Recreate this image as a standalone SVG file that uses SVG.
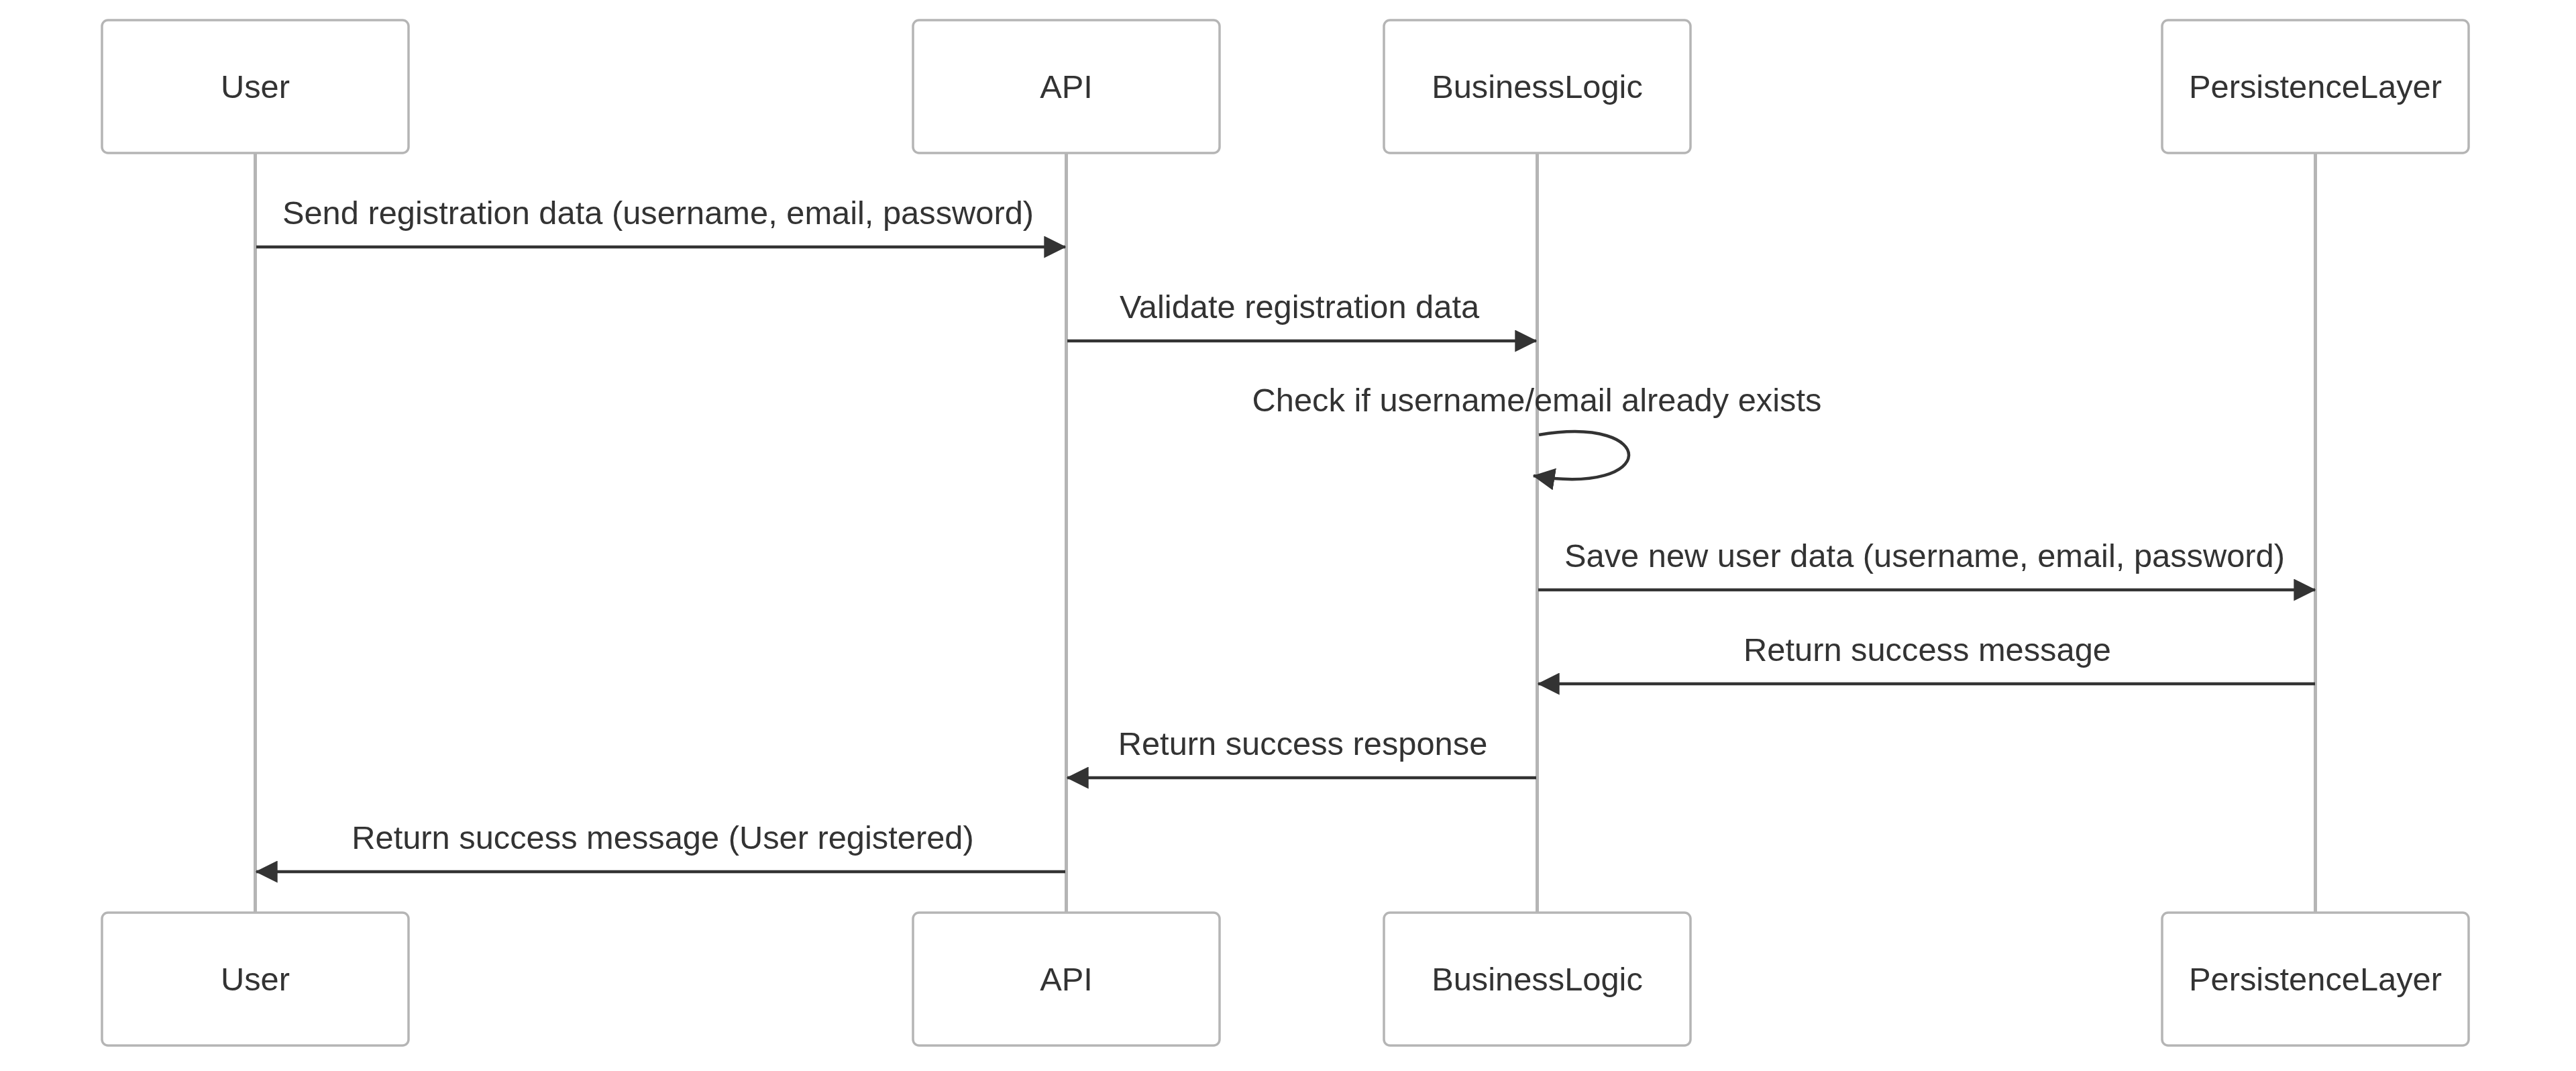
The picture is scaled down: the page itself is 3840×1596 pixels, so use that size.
<svg xmlns="http://www.w3.org/2000/svg" width="3840" height="1596" viewBox="0 0 3840 1596">
<style>
.box{fill:#ffffff;stroke:#b5b5b5;stroke-width:3.5}
.life{stroke:#b5b5b5;stroke-width:5}
.lbl{font-family:"Liberation Sans",Arial,sans-serif;font-size:48.8px;fill:#333333;text-anchor:middle}
.msg{stroke:#333333;stroke-width:4.5;fill:none;marker-end:url(#arr)}
</style>
<defs>
<marker id="arr" viewBox="0 0 10 10" refX="9.6" refY="5" markerUnits="userSpaceOnUse" markerWidth="33" markerHeight="33" orient="auto">
<path d="M0 0 L10 5 L0 10 z" fill="#333333"/>
</marker>
</defs>
<rect width="3840" height="1596" fill="#ffffff"/>
<g id="lifelines">
<line class="life" x1="380.5" y1="228" x2="380.5" y2="1360"/>
<line class="life" x1="1589.5" y1="228" x2="1589.5" y2="1360"/>
<line class="life" x1="2291.5" y1="228" x2="2291.5" y2="1360"/>
<line class="life" x1="3451.5" y1="228" x2="3451.5" y2="1360"/>
</g>
<g id="node-user-top"><rect class="box" x="152" y="30" width="457" height="198" rx="9"/><text class="lbl" x="380.5" y="146">User</text></g>
<g id="node-api-top"><rect class="box" x="1361" y="30" width="457" height="198" rx="9"/><text class="lbl" x="1589.5" y="146">API</text></g>
<g id="node-bl-top"><rect class="box" x="2063" y="30" width="457" height="198" rx="9"/><text class="lbl" x="2291.5" y="146">BusinessLogic</text></g>
<g id="node-pl-top"><rect class="box" x="3223" y="30" width="457" height="198" rx="9"/><text class="lbl" x="3451.5" y="146">PersistenceLayer</text></g>
<g id="node-user-bottom"><rect class="box" x="152" y="1360" width="457" height="198" rx="9"/><text class="lbl" x="380.5" y="1476">User</text></g>
<g id="node-api-bottom"><rect class="box" x="1361" y="1360" width="457" height="198" rx="9"/><text class="lbl" x="1589.5" y="1476">API</text></g>
<g id="node-bl-bottom"><rect class="box" x="2063" y="1360" width="457" height="198" rx="9"/><text class="lbl" x="2291.5" y="1476">BusinessLogic</text></g>
<g id="node-pl-bottom"><rect class="box" x="3223" y="1360" width="457" height="198" rx="9"/><text class="lbl" x="3451.5" y="1476">PersistenceLayer</text></g>
<g id="connectors">
<path class="msg" d="M382 368 L1588 368"/>
<text class="lbl" x="981" y="334">Send registration data (username, email, password)</text>
<path class="msg" d="M1591 508 L2290 508"/>
<text class="lbl" x="1937" y="474">Validate registration data</text>
<path class="msg" d="M2294 648 C2474 618 2474 740 2286 709"/>
<text class="lbl" x="2291" y="613">Check if username/email already exists</text>
<path class="msg" d="M2293 879 L3451 879"/>
<text class="lbl" x="2869" y="845">Save new user data (username, email, password)</text>
<path class="msg" d="M3451 1019 L2293 1019"/>
<text class="lbl" x="2873" y="985">Return success message</text>
<path class="msg" d="M2290 1159 L1591 1159"/>
<text class="lbl" x="1942" y="1125">Return success response</text>
<path class="msg" d="M1588 1299 L382 1299"/>
<text class="lbl" x="988" y="1265">Return success message (User registered)</text>
</g>
</svg>
